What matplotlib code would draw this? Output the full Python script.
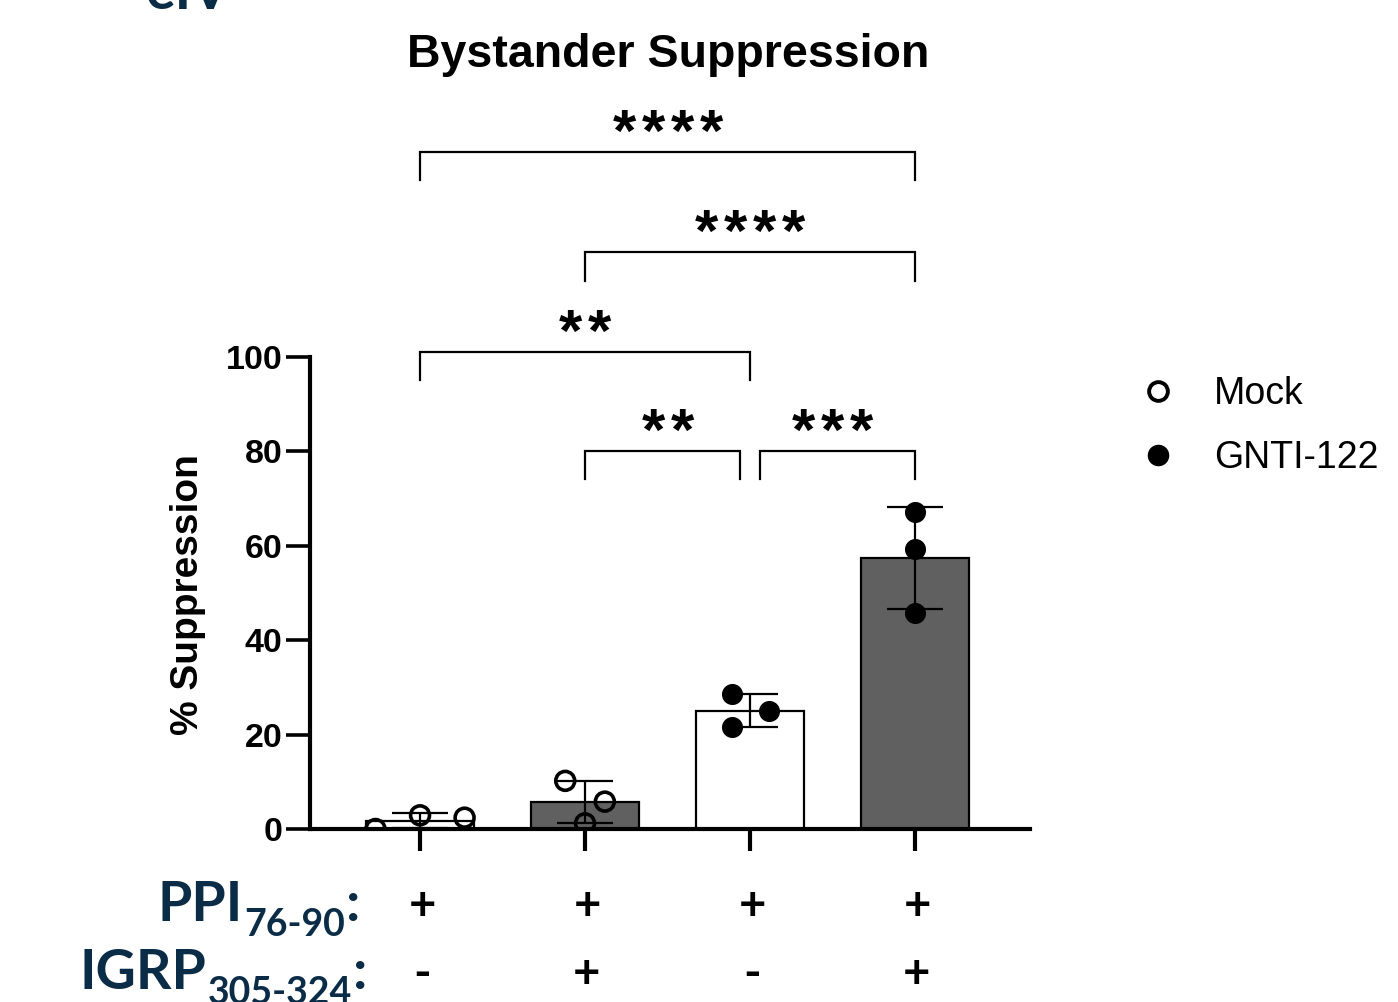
import numpy as np
import matplotlib
matplotlib.use('Agg')
import matplotlib.pyplot as plt
from matplotlib.lines import Line2D
from matplotlib.transforms import blended_transform_factory

# groups / conditions
groups = ['Mock', 'Mock', 'GNTI-122', 'GNTI-122']
ppi_added = ['+', '+', '+', '+']
igrp_added = ['-', '+', '-', '+']

# % suppression, three replicates per bar
replicates = [
    [0.0, 2.9, 2.4],
    [10.2, 5.8, 1.2],
    [28.6, 25.0, 21.6],
    [67.1, 59.3, 45.8],
]
# horizontal spread of the replicate dots (category units)
jitter = [[-0.27, 0.0, 0.27], [-0.12, 0.12, 0.0], [-0.11, 0.115, -0.11], [0.0, 0.0, 0.0]]

# significance comparisons
sig_pairs = [(0, 3), (1, 3), (0, 2), (1, 2), (2, 3)]
sig_labels = ['****', '****', '**', '**', '***']
bracket_levels = [143.4, 122.2, 101.1, 80.1, 80.1]
bracket_trim = [(0, 0), (0, 0), (0, 0), (0, 0.06), (0.06, 0)]

bar_fill = {('Mock', '-'): 'white', ('Mock', '+'): '#606060',
            ('GNTI-122', '-'): 'white', ('GNTI-122', '+'): '#606060'}

W, H = 1398, 1002
navy = '#0b2c47'
plt.rcParams['font.family'] = ['Liberation Sans', 'DejaVu Sans']

fig = plt.figure(figsize=(W / 100, H / 100), dpi=100)
ax = fig.add_axes([310 / W, 1 - 829 / H, 720 / W, 155 * 4.72 / H])
ax.set_xlim(-0.667, 3.697)
ax.set_ylim(0, 155)

x = np.arange(len(replicates))
means = [np.mean(r) for r in replicates]
sds = [np.std(r, ddof=1) for r in replicates]
colors = [bar_fill[(g, i)] for g, i in zip(groups, igrp_added)]

ax.bar(x, means, width=0.655, color=colors, edgecolor='black', linewidth=1.6, zorder=2)

for i, (vals, jit) in enumerate(zip(replicates, jitter)):
    xs = i + np.array(jit)
    if groups[i] == 'Mock':
        ax.scatter(xs, vals, s=185, facecolors='none', edgecolors='black', linewidths=2.6, zorder=3)
    else:
        ax.scatter(xs, vals, s=200, color='black', zorder=3)

ax.errorbar(x, means, yerr=sds, fmt='none', ecolor='black', elinewidth=1.6,
            capsize=20, capthick=1.6, zorder=4)

# spines / ticks
for side in ['top', 'right']:
    ax.spines[side].set_visible(False)
ax.spines['left'].set_linewidth(3)
ax.spines['bottom'].set_linewidth(3)
ax.spines['bottom'].set_zorder(5)
ax.spines['left'].set_bounds(0, 100)
ax.set_yticks(np.arange(0, 101, 20))
ax.set_xticks(x)
ax.set_xticklabels([])
ax.tick_params(axis='y', length=17, width=2.6, pad=3, labelsize=24.5)
ax.tick_params(axis='x', length=16, width=3)
for lab in ax.get_yticklabels():
    lab.set_fontweight('bold')

ax.set_ylabel('% Suppression', fontsize=28, fontweight='bold')
ax.yaxis.label.set_va('center')
ax.yaxis.set_label_coords(-0.1694, 0.32)

fig.text(668 / W, 1 - 55 / H, 'Bystander Suppression', ha='center', va='center',
         fontsize=33.5, fontweight='bold')

# significance brackets
leg_h = 6.0
for (a, b), lab, lev, (ta, tb) in zip(sig_pairs, sig_labels, bracket_levels, bracket_trim):
    xa, xb = a + ta, b - tb
    ax.plot([xa, xa, xb, xb], [lev - leg_h, lev, lev, lev - leg_h], color='black',
            lw=1.6, clip_on=False, solid_joinstyle='miter')
    n = len(lab)
    xc = (a + b) / 2
    for k in range(n):
        ax.annotate('*', xy=(xc, lev), xytext=((k - (n - 1) / 2) * 20.9, 1.0),
                    textcoords='offset points', ha='center', va='baseline',
                    fontsize=43, fontweight='bold')

# legend
handles = [Line2D([], [], marker='o', ls='none', mfc='none', mec='black', mew=2.8, ms=13.5),
           Line2D([], [], marker='o', ls='none', mfc='black', mec='black', ms=14.5)]
fig.legend(handles, ['Mock', 'GNTI-122'], loc='upper left', bbox_to_anchor=(1139 / W, 1 - 376 / H),
           frameon=False, fontsize=27, handlelength=1.0, handletextpad=1.0,
           labelspacing=0.76, borderpad=0, borderaxespad=0)

# condition rows under the axis
trans = blended_transform_factory(ax.transData, fig.transFigure)
for i in x:
    ax.text(i + 0.015, 1 - 920 / H, ppi_added[i], transform=trans, ha='center', va='baseline',
            fontsize=34, fontweight='bold', family='Lato', color='black')
    ax.text(i + 0.01, 1 - 988 / H, igrp_added[i], transform=trans, ha='center', va='baseline',
            fontsize=34, fontweight='bold', family='Lato', color='black')

renderer = fig.canvas.get_renderer()


def peptide_label(x_px, base_px, name, sub):
    t = fig.text(x_px / W, 1 - base_px / H, name, ha='left', va='baseline',
                 fontsize=40, fontweight='bold', family='Lato', color=navy)
    bb = t.get_window_extent(renderer)
    s = fig.text((bb.x1 + 1) / W, 1 - (base_px + 15) / H, sub, ha='left', va='baseline',
                 fontsize=27, fontweight='bold', family='Lato', color=navy)
    bb2 = s.get_window_extent(renderer)
    fig.text((bb2.x1 + 1) / W, 1 - base_px / H, ':', ha='left', va='baseline',
             fontsize=40, fontweight='bold', family='Lato', color=navy)


peptide_label(158, 921, 'PPI', '76-90')
peptide_label(80, 989, 'IGRP', '305-324')

# cut-off heading at top of the slide
fig.text(145 / W, 1 - 9 / H, 'eIV', ha='left', va='baseline', fontsize=40,
         fontweight='bold', family='Lato', color=navy)

fig.savefig('out.png', dpi=100)
